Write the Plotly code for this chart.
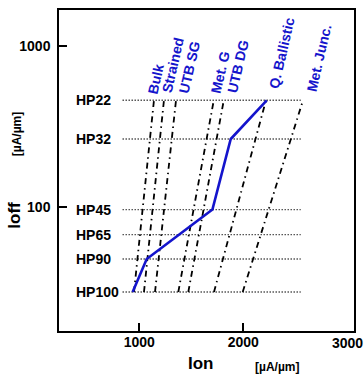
import math
import plotly.graph_objects as go

# ---------------- data ----------------
hp_names = ["HP22", "HP32", "HP45", "HP65", "HP90", "HP100"]
hp_ioff = [460, 265, 97, 68, 48, 30]          # uA/um
hp_ion_span = [840, 2550]                      # extent of the dotted reference lines

road_ion = [936, 1071, 1703, 1879, 2225]       # blue roadmap curve
road_ioff = [30, 48, 97, 265, 460]

tech_labels = ["Bulk", "Strained", "UTB SG", "Met. G", "UTB DG", "Q. Ballistic", "Met. Junc."]
tech_ion_hp100 = [949, 1045, 1151, 1375, 1471, 1718, 1994]
tech_ion_hp22 = [1141, 1237, 1353, 1716, 1812, 2218, 2574]

x_ticks = [1000, 2000, 3000]
y_ticks = [100, 1000]

# ---------------- styling ----------------
FONT = "Liberation Sans, Arial, sans-serif"
BLUE = "#1414cc"
W, H = 364, 376
ML, MR, MT, MB = 59, 10, 8, 45
PW, PH = W - ML - MR, H - MT - MB


def px2paper(px, py):
    return (px - ML) / PW, (H - MB - py) / PH


fig = go.Figure()

# dotted HP reference lines
for v in hp_ioff:
    fig.add_trace(go.Scatter(x=hp_ion_span, y=[v, v], mode="lines",
                             line=dict(color="black", width=1.3, dash="1px,2px"),
                             hoverinfo="skip", showlegend=False))

# dash-dot technology lines
for lo, hi in zip(tech_ion_hp100, tech_ion_hp22):
    fig.add_trace(go.Scatter(x=[lo, hi], y=[hp_ioff[-1], hp_ioff[0]], mode="lines",
                             line=dict(color="black", width=1.8, dash="6px,4px,1.5px,4px"),
                             hoverinfo="skip", showlegend=False))

# roadmap curve
fig.add_trace(go.Scatter(x=road_ion, y=road_ioff, mode="lines",
                         line=dict(color=BLUE, width=2.6),
                         hoverinfo="skip", showlegend=False))

annotations = []
# HP labels
for name, v in zip(hp_names, hp_ioff):
    annotations.append(dict(x=px2paper(74, 0)[0], xref="paper", y=math.log10(v), yref="y",
                            text=name, showarrow=False, xanchor="left", yanchor="middle",
                            font=dict(family=FONT, size=14, color="black", weight="bold")))

# rotated technology labels (centres in pixels)
label_centres = [(155.5, 77), (173, 63.5), (189, 66), (220, 70), (237.5, 65), (281.5, 51), (318.5, 57)]
for t, (cx, cy) in zip(tech_labels, label_centres):
    px_, py_ = px2paper(cx, cy)
    annotations.append(dict(x=px_, y=py_, xref="paper", yref="paper", text=t,
                            showarrow=False, textangle=-77, xanchor="center", yanchor="middle",
                            font=dict(family=FONT, size=14, color=BLUE, weight="bold")))


def title(text, cx, cy, size, angle=0):
    ax, ay = px2paper(cx, cy)
    return dict(x=ax, y=ay, xref="paper", yref="paper", text=text, showarrow=False,
                textangle=angle, xanchor="center", yanchor="middle",
                font=dict(family=FONT, size=size, color="black", weight="bold"))


annotations.append(title("Ioff", 15, 215, 17, -90))
annotations.append(title("[µA/µm]", 17, 133, 12, -90))
annotations.append(title("Ion", 201, 364, 17))
annotations.append(title("[µA/µm]", 277, 367, 12))

# 3000 label without a tick mark
annotations.append(dict(x=x_ticks[-1], xref="x", y=px2paper(0, 343.5)[1], yref="paper",
                        text=str(x_ticks[-1]), showarrow=False, xanchor="center", yanchor="middle",
                        font=dict(family=FONT, size=14, color="black", weight="bold")))

fig.update_layout(
    width=W, height=H,
    margin=dict(l=ML, r=MR, t=MT, b=MB),
    paper_bgcolor="white", plot_bgcolor="white",
    showlegend=False,
    annotations=annotations,
    xaxis=dict(range=[228, 3064], tickvals=x_ticks[:-1], ticktext=[str(v) for v in x_ticks[:-1]],
               ticks="inside", ticklen=8, tickwidth=1.5, tickcolor="black",
               showline=True, linewidth=1.5, linecolor="black", mirror=True,
               showgrid=False, zeroline=False, ticklabelstandoff=-3,
               tickfont=dict(family=FONT, size=14, color="black", weight="bold")),
    yaxis=dict(type="log", range=[1.236, 3.221], tickvals=y_ticks,
               ticktext=[str(v) for v in y_ticks],
               ticks="inside", ticklen=8, tickwidth=1.5, tickcolor="black",
               showline=True, linewidth=1.5, linecolor="black", mirror=True,
               showgrid=False, zeroline=False, ticklabelstandoff=4,
               tickfont=dict(family=FONT, size=14, color="black", weight="bold")),
)

fig.write_html("out.html")
